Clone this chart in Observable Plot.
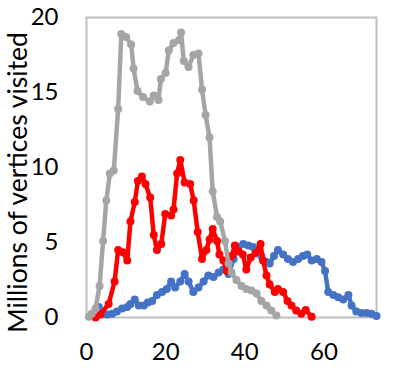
<!DOCTYPE html>
<html>
<head>
<meta charset="utf-8">
<script src="https://cdn.jsdelivr.net/npm/d3@7"></script>
<script src="https://cdn.jsdelivr.net/npm/@observablehq/plot@0.6"></script>
<style>
  html, body { margin: 0; padding: 0; background: #fff; }
</style>
</head>
<body>
<div id="chart"></div>
<script>
// Gray series
const grayX = [0.6,1.3,2.3,3.3,4.2,5.0,5.9,6.9,8.0,8.8,10.0,11.3,11.9,12.9,14.3,16.0,17.0,18.2,18.8,20.0,20.8,22.0,23.4,23.9,24.6,25.8,27.0,28.3,29.2,30.1,31.1,31.9,33.0,33.8,35.0,35.9,36.7,37.9,39.2,40.4,41.7,43.0,44.2,45.5,46.7,48.0];
const grayY = [0.05,0.25,0.6,2.1,5.1,7.8,9.6,9.8,13.9,18.9,18.7,18.2,16.6,15.1,14.7,14.4,14.8,14.5,15.9,16.3,17.8,18.3,18.5,19.0,17.1,16.7,17.5,17.6,15.2,13.5,12.0,8.4,6.7,6.4,5.1,3.6,3.0,2.5,2.1,1.9,1.8,1.6,1.1,0.8,0.47,0.13];
// Red series
const redX = [2.3,3.5,5.6,7.1,8.0,9.2,10.3,11.1,12.2,13.0,14.0,14.9,16.1,17.0,17.8,18.9,19.9,21.4,22.0,22.9,23.7,24.8,26.2,27.1,28.1,29.2,30.3,31.1,31.9,33.0,33.6,34.6,35.5,36.7,37.5,38.5,39.5,40.4,41.5,42.7,44.0,44.6,45.5,46.3,47.6,48.4,49.7,50.8,51.8,53.0,54.3,55.4,56.9];
const redY = [0.0,0.2,0.9,2.4,4.5,4.35,3.8,6.4,7.7,9.1,9.4,8.9,8.0,5.5,4.5,4.9,6.9,6.8,7.2,9.6,10.5,9.0,8.9,7.8,5.7,3.9,4.5,5.2,5.9,5.1,4.2,3.8,3.1,4.1,4.8,4.4,4.2,3.2,4.0,4.3,4.9,3.8,2.8,2.2,1.7,1.9,1.7,1.1,0.8,0.47,0.25,0.5,0.05];
// Blue series
const blueX = [3.1,4.0,5.2,6.5,7.7,9.0,10.3,11.1,12.2,13.2,14.5,15.5,16.6,17.8,19.1,20.3,21.4,22.4,23.7,24.8,25.8,27.0,28.3,29.6,30.8,32.1,33.4,34.6,35.9,37.2,38.3,39.6,40.9,42.1,43.4,44.2,45.5,46.3,47.4,48.4,49.7,50.9,52.2,53.5,54.7,55.8,56.9,58.2,59.4,60.3,61.1,62.4,63.6,64.9,66.2,67.0,68.2,69.5,70.8,72.0,73.3];
const blueY = [0.7,0.25,0.2,0.25,0.4,0.6,0.7,0.9,1.2,0.8,0.8,1.0,1.1,1.5,1.7,1.9,2.4,2.0,2.4,2.9,2.4,1.7,2.0,2.4,2.8,2.7,3.0,3.2,2.9,3.9,4.7,4.9,4.8,4.7,4.5,4.1,3.7,3.6,4.1,4.5,4.2,3.9,3.7,3.9,4.1,4.2,3.8,3.9,3.7,3.1,1.7,1.5,1.35,1.2,1.5,0.8,0.4,0.3,0.3,0.25,0.1];

const xTicks = [0, 20, 40, 60];
const yTicks = [0, 5, 10, 15, 20];
const yLabel = "Millions of vertices visited";

const toRows = (xs, ys) => xs.map((x, i) => ({x, y: ys[i]}));
const series = [
  {rows: toRows(blueX, blueY), color: "#4472C4"},
  {rows: toRows(redX, redY), color: "#FF0000"},
  {rows: toRows(grayX, grayY), color: "#A5A5A5"}
];

const marks = [Plot.frame({stroke: "#BFBFBF", strokeWidth: 2})];
for (const s of series) {
  marks.push(Plot.line(s.rows, {x: "x", y: "y", stroke: s.color, strokeWidth: 4.5, strokeLinejoin: "round", strokeLinecap: "round"}));
  marks.push(Plot.dot(s.rows, {x: "x", y: "y", fill: s.color, r: 4}));
}
marks.push(Plot.axisX({ticks: xTicks, tickSize: 0, tickPadding: 25, label: null, fontSize: 24}));
marks.push(Plot.axisY({ticks: yTicks, tickSize: 0, tickPadding: 28, label: null, fontSize: 24}));
marks.push(Plot.text([yLabel], {frameAnchor: "left", rotate: -90, dx: -68, dy: 15, textAnchor: "middle", lineAnchor: "middle", fontSize: 26.5, fill: "#000"}));

const chart = Plot.plot({
  width: 415,
  height: 374,
  marginLeft: 86,
  marginRight: 39,
  marginTop: 17,
  marginBottom: 57,
  style: {fontFamily: "Lato, 'Open Sans', sans-serif", color: "#000", background: "#fff"},
  x: {domain: [0, 73.3]},
  y: {domain: [0, 20]},
  marks
});
document.getElementById("chart").appendChild(chart);
</script>
</body>
</html>
